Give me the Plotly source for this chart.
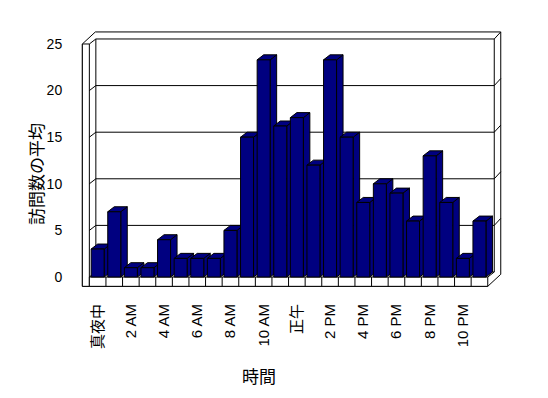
import plotly.graph_objects as go

# ---- data ----
hours = list(range(24))
visits = [3, 7, 1, 1, 4, 2, 2, 2, 5, 15, 23.3, 16.2, 17.1, 12, 23.3, 15, 8, 10, 9, 6, 13, 8, 2, 6]
x_tick_vals = [0, 2, 4, 6, 8, 10, 12, 14, 16, 18, 20, 22]
x_tick_text = ["真夜中", "2 AM", "4 AM", "6 AM", "8 AM", "10 AM", "正午",
               "2 PM", "4 PM", "6 PM", "8 PM", "10 PM"]
y_tick_vals = [0, 5, 10, 15, 20, 25]
y_title = "訪問数の平均"
x_title = "時間"

# ---- geometry (pixels per unit) ----
W, H = 548, 398
L, R = 80, 45
px_x = 16.6
px_y = 9.3
y_lo, y_hi = -1.5, 26.5
x_lo = (L - 97.65) / px_x
x_hi = x_lo + (W - L - R) / px_x
plot_h = (y_hi - y_lo) * px_y
B = 276.7 + (0 - y_lo) * px_y
T = B - plot_h

n = len(hours)
ymax = max(y_tick_vals)
bw = 13 / px_x
dx1, dy1 = 6.5 / px_x, 5 / px_y
dx2, dy2 = 6.5 / px_x, 7 / px_y
xLi = -0.5
xR = n - 0.5
xL = xLi - 7 / px_x
yB = -9.3 / px_y

NAVY = "#000080"


def path(pts):
    return "M " + " L ".join(f"{x:.4f},{y:.4f}" for x, y in pts) + " Z"


def opath(pts):
    return "M " + " L ".join(f"{x:.4f},{y:.4f}" for x, y in pts)


shapes = []
line = dict(color="black", width=1)


def poly(pts, layer="below", fill="white"):
    shapes.append(dict(type="path", path=path(pts), xref="x", yref="y",
                       fillcolor=fill, line=line, layer=layer))


def pline(pts, layer="below"):
    shapes.append(dict(type="path", path=opath(pts), xref="x", yref="y",
                       line=line, layer=layer))


# outer silhouette
poly([(xL, yB), (xL, ymax), (xL + dx1 + dx2, ymax + dy1 + dy2),
      (xR + dx1 + dx2, ymax + dy1 + dy2), (xR + dx1 + dx2, yB + dy1 + dy2), (xR, yB)])
# left wall front face
poly([(xL, yB), (xL, ymax), (xLi, ymax), (xLi, yB)])
# back wall inner face
poly([(xLi + dx1, dy1), (xLi + dx1, ymax + dy1), (xR + dx1, ymax + dy1), (xR + dx1, dy1)])
# top edges
pline([(xLi, ymax), (xLi + dx1, ymax + dy1)])
pline([(xR + dx1, ymax + dy1), (xR + dx1 + dx2, ymax + dy1 + dy2)])
# floor top edges
pline([(xLi, 0), (xLi + dx1, dy1)])
pline([(xR, 0), (xR + dx1, dy1)])
# gridlines on walls
for v in y_tick_vals[1:-1]:
    pline([(xLi, v), (xLi + dx1, v + dy1), (xR + dx1, v + dy1),
           (xR + dx1 + dx2, v + dy1 + dy2)])
# floor front face with category dividers
poly([(xLi, yB), (xLi, 0), (xR, 0), (xR, yB)])
for i in hours[:-1]:
    pline([(i + 0.5, yB), (i + 0.5, 0)])

# bar side and top faces (drawn beneath the front faces)
for i, v in zip(hours, visits):
    x0, x1 = i - bw / 2, i + bw / 2
    poly([(x1, 0), (x1, v), (x1 + dx1, v + dy1), (x1 + dx1, dy1)], layer="between", fill=NAVY)
    poly([(x0, v), (x1, v), (x1 + dx1, v + dy1), (x0 + dx1, v + dy1)], layer="between", fill=NAVY)

fig = go.Figure()
fig.add_trace(go.Bar(x=hours, y=visits, width=bw, marker=dict(color=NAVY, line=dict(color="black", width=1)),
                     hoverinfo="skip"))

FONT = "Liberation Sans, Arial, Noto Sans CJK JP"
CJK = "Noto Sans CJK JP, Liberation Sans"

fig.update_layout(
    width=W, height=H,
    margin=dict(l=L, r=R, t=T, b=H - B, pad=0),
    paper_bgcolor="white", plot_bgcolor="white",
    showlegend=False,
    shapes=shapes,
    xaxis=dict(range=[x_lo, x_hi], tickmode="array", tickvals=x_tick_vals, ticktext=x_tick_text,
               tickangle=-90, showgrid=False, zeroline=False, showline=False,
               ticks="outside", ticklen=6, tickcolor="rgba(0,0,0,0)",
               tickfont=dict(family=FONT, size=15, color="black")),
    yaxis=dict(range=[y_lo, y_hi], tickmode="array", tickvals=y_tick_vals,
               showgrid=False, zeroline=False, showline=False,
               ticks="outside", ticklen=14, tickcolor="rgba(0,0,0,0)",
               tickfont=dict(family=FONT, size=14, color="black")),
    annotations=[
        dict(text=y_title, xref="paper", yref="paper", x=(35 - L) / (W - L - R), y=(B - 174) / plot_h,
             xanchor="center", yanchor="middle", showarrow=False, textangle=-90,
             font=dict(family=CJK, size=17, color="black")),
        dict(text=x_title, xref="paper", yref="paper", x=(259 - L) / (W - L - R), y=(B - 375) / plot_h,
             xanchor="center", yanchor="middle", showarrow=False,
             font=dict(family=CJK, size=17, color="black")),
    ],
)

fig.write_html("out.html")
